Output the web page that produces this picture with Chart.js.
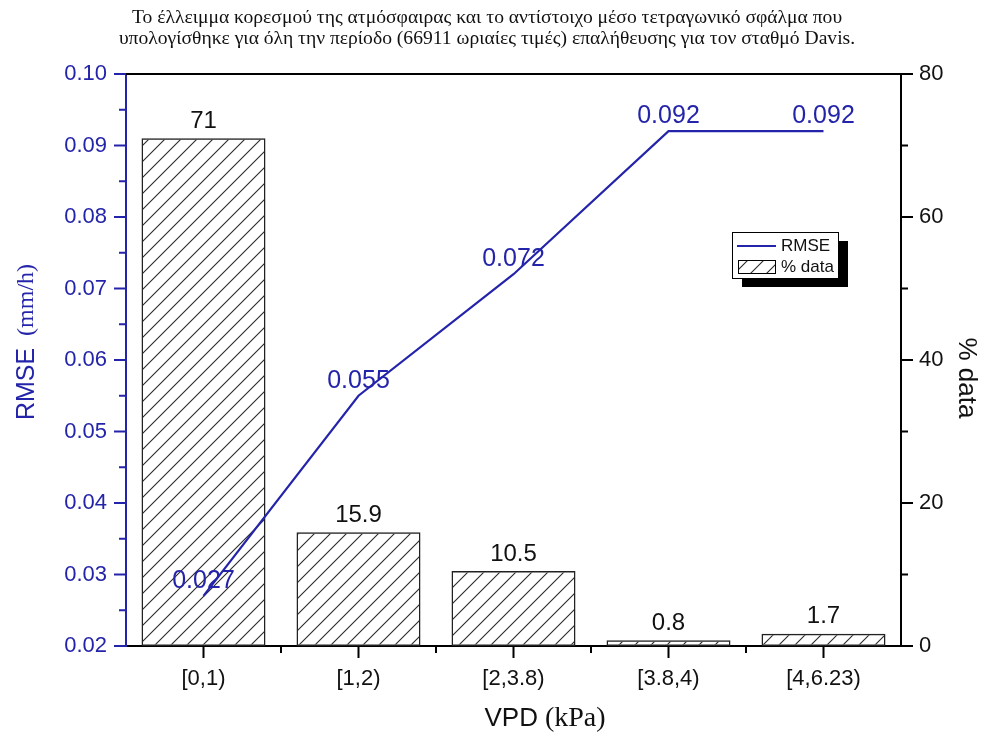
<!DOCTYPE html>
<html>
<head>
<meta charset="utf-8">
<script src="https://cdn.jsdelivr.net/npm/chart.js@4"></script>
<style>
  html, body { margin: 0; padding: 0; background: #fff; }
  #wrap { width: 988px; height: 734px; }
</style>
</head>
<body>
<div id="wrap"><canvas id="chart" width="988" height="734"></canvas></div>
<script>
const categories = ['[0,1)', '[1,2)', '[2,3.8)', '[3.8,4)', '[4,6.23)'];
const rmse = [0.027, 0.055, 0.072, 0.092, 0.092];
const pctData = [71, 15.9, 10.5, 0.8, 1.7];
const titleLines = [
  'Το έλλειμμα κορεσμού της ατμόσφαιρας και το αντίστοιχο μέσο τετραγωνικό σφάλμα που',
  'υπολογίσθηκε για όλη την περίοδο (66911 ωριαίες τιμές) επαλήθευσης για τον σταθμό Davis.'
];

const BLUE = '#2424aa';
const SANS = 'Arial, "Liberation Sans", sans-serif';
const SERIF = '"Times New Roman", "Liberation Serif", serif';

function hatch() {
  const c = document.createElement('canvas');
  c.width = 16; c.height = 16;
  const g = c.getContext('2d');
  g.strokeStyle = '#2a2a2a';
  g.lineWidth = 1.1;
  g.beginPath();
  g.moveTo(-2, 18); g.lineTo(18, -2);
  g.moveTo(-2, 2); g.lineTo(2, -2);
  g.moveTo(14, 18); g.lineTo(18, 14);
  g.stroke();
  return g.createPattern(c, 'repeat');
}
const hatchFill = hatch();

// ticks, frame, titles, labels and legend drawn on top of the chart
const decor = {
  id: 'decor',
  afterDraw(chart) {
    const ctx = chart.ctx;
    const a = chart.chartArea;
    const yL = chart.scales.yL, yR = chart.scales.yR, x = chart.scales.x;
    ctx.save();

    // top frame
    ctx.strokeStyle = '#000';
    ctx.lineWidth = 2;
    ctx.beginPath();
    ctx.moveTo(a.left, a.top); ctx.lineTo(a.right, a.top);
    ctx.stroke();

    // left ticks
    ctx.strokeStyle = BLUE;
    ctx.beginPath();
    for (let i = 0; i <= 16; i++) {
      const py = yL.getPixelForValue(0.02 + i * 0.005);
      ctx.moveTo(a.left - (i % 2 ? 7 : 12), py); ctx.lineTo(a.left, py);
    }
    ctx.stroke();

    // right ticks
    ctx.strokeStyle = '#000';
    ctx.beginPath();
    for (let i = 0; i <= 8; i++) {
      const py = yR.getPixelForValue(i * 10);
      ctx.moveTo(a.right, py); ctx.lineTo(a.right + (i % 2 ? 7 : 12), py);
    }
    ctx.stroke();

    // bottom ticks
    ctx.beginPath();
    for (let i = 0; i < categories.length; i++) {
      const px = x.getPixelForValue(i);
      ctx.moveTo(px, a.bottom); ctx.lineTo(px, a.bottom + 12);
      if (i > 0) {
        const mx = (px + x.getPixelForValue(i - 1)) / 2;
        ctx.moveTo(mx, a.bottom); ctx.lineTo(mx, a.bottom + 7);
      }
    }
    ctx.stroke();

    // bar value labels
    ctx.textAlign = 'center';
    ctx.textBaseline = 'middle';
    ctx.fillStyle = '#111';
    ctx.font = '24px ' + SANS;
    chart.getDatasetMeta(0).data.forEach((bar, i) => {
      ctx.fillText(String(pctData[i]), bar.x, bar.y - 17);
    });

    // line value labels
    ctx.fillStyle = BLUE;
    ctx.font = '25px ' + SANS;
    chart.getDatasetMeta(1).data.forEach((pt, i) => {
      ctx.fillText(rmse[i].toFixed(3), pt.x, pt.y - 15);
    });

    // chart title
    ctx.fillStyle = '#111';
    ctx.font = '19.6px ' + SERIF;
    ctx.fillText(titleLines[0], 487, 18);
    ctx.fillText(titleLines[1], 487, 39);

    // mixed-font titles
    function mixed(parts, cx, cy, rot) {
      ctx.save();
      ctx.translate(cx, cy);
      ctx.rotate(rot);
      let total = 0;
      parts.forEach(p => { ctx.font = p.font; total += ctx.measureText(p.text).width + (p.gap || 0); });
      let pos = -total / 2;
      ctx.textAlign = 'left';
      parts.forEach(p => {
        ctx.font = p.font;
        ctx.fillText(p.text, pos, 0);
        pos += ctx.measureText(p.text).width + (p.gap || 0);
      });
      ctx.restore();
    }
    ctx.fillStyle = BLUE;
    mixed([{ text: 'RMSE', font: '25px ' + SANS, gap: 12 }, { text: '(mm/h)', font: '24px ' + SERIF }], 27, 342, -Math.PI / 2);
    ctx.fillStyle = '#111';
    mixed([{ text: '% data', font: '26px ' + SANS }], 966, 378, Math.PI / 2);
    mixed([{ text: 'VPD', font: '26px ' + SANS, gap: 7 }, { text: '(kPa)', font: '28px ' + SERIF }], 545, 719, 0);

    // legend with drop shadow
    const lx = 732, ly = 232, lw = 106, lh = 46;
    ctx.fillStyle = '#000';
    ctx.fillRect(lx + 10, ly + 9, lw, lh);
    ctx.fillStyle = '#fff';
    ctx.fillRect(lx, ly, lw, lh);
    ctx.strokeStyle = '#000';
    ctx.lineWidth = 1;
    ctx.strokeRect(lx + 0.5, ly + 0.5, lw, lh);
    ctx.strokeStyle = BLUE;
    ctx.lineWidth = 2;
    ctx.beginPath();
    ctx.moveTo(737, 246); ctx.lineTo(776, 246);
    ctx.stroke();
    ctx.fillStyle = hatchFill;
    ctx.fillRect(738, 260, 37, 13);
    ctx.strokeStyle = '#000';
    ctx.lineWidth = 1;
    ctx.strokeRect(738.5, 260.5, 37, 13);
    ctx.fillStyle = '#111';
    ctx.font = '17px ' + SANS;
    ctx.textAlign = 'left';
    ctx.fillText('RMSE', 781, 246);
    ctx.fillText('% data', 781, 267);

    ctx.restore();
  }
};

new Chart(document.getElementById('chart'), {
  data: {
    labels: categories,
    datasets: [
      {
        type: 'bar',
        label: '% data',
        data: pctData,
        yAxisID: 'yR',
        backgroundColor: hatchFill,
        borderColor: '#222',
        borderWidth: 1.5,
        borderSkipped: false,
        barPercentage: 0.8,
        categoryPercentage: 1.0,
        order: 2
      },
      {
        type: 'line',
        label: 'RMSE',
        data: rmse,
        yAxisID: 'yL',
        borderColor: BLUE,
        borderWidth: 2.2,
        pointRadius: 0,
        tension: 0,
        order: 1
      }
    ]
  },
  options: {
    responsive: false,
    animation: false,
    layout: { padding: { top: 74, left: 0, right: 0, bottom: 0 } },
    plugins: { legend: { display: false }, title: { display: false }, tooltip: { enabled: false } },
    scales: {
      x: {
        offset: true,
        grid: { display: false },
        border: { color: '#000', width: 2 },
        ticks: { color: '#111', font: { size: 22, family: SANS }, padding: 12, maxRotation: 0 },
        afterFit: s => { s.height = 88; }
      },
      yL: {
        position: 'left',
        min: 0.02, max: 0.10,
        grid: { display: false },
        border: { color: BLUE, width: 2 },
        ticks: { stepSize: 0.01, color: BLUE, font: { size: 22, family: SANS }, padding: 11,
                 callback: v => v.toFixed(2) },
        afterFit: s => { s.width = 126; }
      },
      yR: {
        position: 'right',
        min: 0, max: 80,
        grid: { display: false },
        border: { color: '#000', width: 2 },
        ticks: { stepSize: 20, color: '#111', font: { size: 22, family: SANS }, padding: 10 },
        afterFit: s => { s.width = 87; }
      }
    }
  },
  plugins: [decor]
});
</script>
</body>
</html>
